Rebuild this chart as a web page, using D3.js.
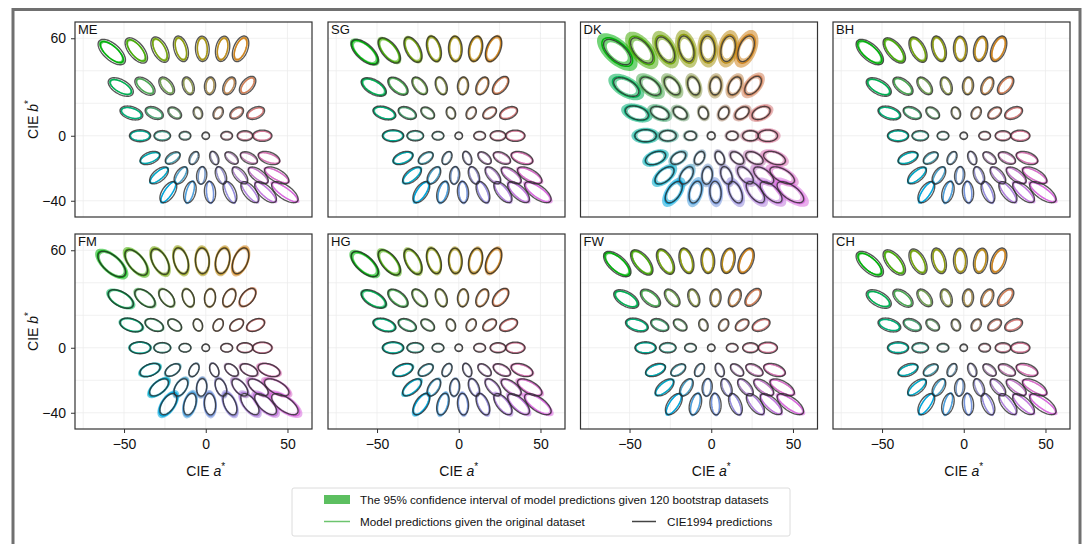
<!DOCTYPE html>
<html>
<head>
<meta charset="utf-8">
<script src="https://cdn.jsdelivr.net/npm/d3@7"></script>
<style>
  body { margin: 0; background: #fff; }
  text { font-family: "Liberation Sans", Arial, sans-serif; fill: #111; }
</style>
</head>
<body>
<svg id="chart" width="1086" height="544"></svg>
<script>
// Observers / datasets, one panel each
const panelNames = ["ME", "SG", "DK", "BH", "FM", "HG", "FW", "CH"];

// Reference colour centres in the a*b* plane (7 rows x 7 columns, row-major)
const centerA = [
  -57.5, -42.5, -28.0, -15.2, -2.1, 10.3, 21.3,
  -52.0, -37.2, -23.9, -10.7,  2.6, 14.4, 25.6,
  -45.5, -31.5, -19.0,  -4.8,  7.6, 18.9, 30.5,
  -40.2, -26.6, -12.7,   0.0, 12.8, 24.0, 34.6,
  -34.1, -20.2,  -7.2,   5.2, 15.8, 26.4, 38.7,
  -28.6, -15.2,  -2.5,   9.3, 20.9, 32.1, 43.4,
  -22.9,  -9.7,   2.6,  14.8, 27.0, 36.6, 48.4
];
const centerB = [
   51.5,  52.5,  53.0,  53.5,  53.5,  53.5,  53.5,
   30.0,  30.5,  30.7,  30.7,  30.7,  30.7,  31.0,
   14.0,  14.0,  14.0,  14.0,  14.0,  14.0,  14.0,
    0.0,   0.0,   0.0,   0.0,   0.0,   0.0,   0.0,
  -13.7, -13.7, -13.7, -13.7, -13.7, -13.7, -13.7,
  -24.4, -24.4, -24.4, -24.4, -24.4, -24.4, -24.4,
  -34.7, -34.7, -34.7, -34.7, -34.7, -34.7, -34.7
];

// CIE1994 threshold ellipses: semi-axis along the chroma direction and along the hue direction
const cieRadial = [
  10.3, 9.3, 8.5, 8.1, 7.8, 7.9, 8.3,
   8.5, 7.3, 6.3, 5.7, 5.5, 5.8, 6.5,
   7.2, 5.9, 4.7, 3.8, 4.0, 4.7, 5.8,
   6.5, 5.1, 3.6, 2.3, 3.6, 4.8, 5.9,
   6.4, 5.1, 4.3, 4.3, 4.8, 5.7, 6.9,
   6.9, 5.9, 5.4, 5.6, 6.3, 7.2, 8.3,
   7.4, 6.8, 6.6, 7.0, 7.7, 8.4, 9.5
];
const cieTangential = [
  5.0, 4.6, 4.4, 4.2, 4.2, 4.2, 4.3,
  4.4, 4.0, 3.6, 3.4, 3.4, 3.5, 3.7,
  3.9, 3.5, 3.1, 2.8, 2.9, 3.1, 3.5,
  3.7, 3.2, 2.7, 2.3, 2.7, 3.1, 3.5,
  3.6, 3.1, 2.7, 2.6, 2.9, 3.2, 3.6,
  3.6, 3.3, 3.1, 3.1, 3.3, 3.5, 3.8,
  3.8, 3.5, 3.4, 3.5, 3.7, 3.9, 4.2
];

// Model ellipses per panel, per row of the grid, relative to CIE1994 axes
const modelRadial = {
  ME: [0.86, 0.86, 0.88, 0.92, 0.98, 1.00, 1.02],
  SG: [0.95, 0.93, 0.93, 0.95, 0.98, 1.00, 1.00],
  DK: [1.12, 1.10, 1.08, 1.05, 1.05, 1.06, 1.08],
  BH: [0.90, 0.90, 0.92, 0.94, 0.98, 1.00, 1.02],
  FM: [1.05, 1.02, 1.00, 1.00, 1.05, 1.10, 1.12],
  HG: [0.98, 0.96, 0.95, 0.96, 1.00, 1.03, 1.04],
  FW: [0.92, 0.90, 0.92, 0.94, 0.98, 1.00, 1.02],
  CH: [0.88, 0.88, 0.90, 0.93, 0.98, 1.00, 1.02]
};
const modelTangential = {
  ME: [0.72, 0.72, 0.75, 0.80, 0.72, 0.66, 0.62],
  SG: [0.85, 0.82, 0.82, 0.85, 0.80, 0.76, 0.74],
  DK: [1.15, 1.10, 1.08, 1.05, 1.05, 1.05, 1.05],
  BH: [0.78, 0.76, 0.78, 0.82, 0.76, 0.70, 0.66],
  FM: [1.00, 0.95, 0.92, 0.92, 0.95, 1.00, 1.05],
  HG: [0.90, 0.86, 0.86, 0.88, 0.86, 0.84, 0.84],
  FW: [0.80, 0.78, 0.80, 0.84, 0.80, 0.74, 0.70],
  CH: [0.76, 0.74, 0.76, 0.80, 0.74, 0.68, 0.64]
};
// Half-width of the bootstrap 95% interval, as a fraction of the model axes
const ciHalfWidth = {
  ME: [0.13, 0.11, 0.10, 0.10, 0.11, 0.12, 0.12],
  SG: [0.16, 0.14, 0.13, 0.13, 0.14, 0.14, 0.15],
  DK: [0.32, 0.30, 0.28, 0.27, 0.27, 0.28, 0.30],
  BH: [0.14, 0.12, 0.11, 0.11, 0.12, 0.13, 0.13],
  FM: [0.17, 0.15, 0.14, 0.14, 0.16, 0.18, 0.19],
  HG: [0.17, 0.15, 0.14, 0.14, 0.15, 0.16, 0.17],
  FW: [0.13, 0.12, 0.11, 0.11, 0.12, 0.13, 0.13],
  CH: [0.12, 0.11, 0.10, 0.10, 0.11, 0.12, 0.12]
};

const xTicks = [-50, 0, 50];
const yTicks = [60, 0, -40];
const xGrid = [-75, -50, -25, 0, 25, 50];
const yGrid = [-40, -20, 0, 20, 40, 60];

const legendLabels = [
  "The 95% confidence interval of model predictions given 120 bootstrap datasets",
  "Model predictions given the original dataset",
  "CIE1994 predictions"
];

// ---- layout ----
const svg = d3.select("#chart");
const panelLeft = [75, 328, 580.5, 833];
const panelTop = [22, 234];
const pw = 237, ph = 195;

const x = d3.scaleLinear().domain([-80, 65]).range([0, pw]);
const y = d3.scaleLinear().domain([-50, 70]).range([ph, 0]);

// figure frame
svg.append("rect")
  .attr("x", 13).attr("y", 9.5).attr("width", 1067).attr("height", 560)
  .attr("fill", "none").attr("stroke", "#707070").attr("stroke-width", 3);

// stimulus colour of each grid point
function swatch(a, b) {
  return d3.lab(62, a * 1.15, b * 1.15).formatHex();
}

const line = d3.line().x(d => x(d[0])).y(d => y(d[1]));

function ellipsePts(a, b, r, t, n = 72) {
  const th = Math.atan2(b, a);
  const c = Math.cos(th), s = Math.sin(th);
  const pts = [];
  for (let k = 0; k < n; k++) {
    const u = (k / n) * 2 * Math.PI;
    const p = r * Math.cos(u), q = t * Math.sin(u);
    pts.push([a + p * c - q * s, b + p * s + q * c]);
  }
  return pts;
}
const closed = pts => line(pts) + "Z";

panelNames.forEach((name, pi) => {
  const col = pi % 4, row = Math.floor(pi / 4);
  const g = svg.append("g").attr("transform", `translate(${panelLeft[col]},${panelTop[row]})`);

  const cid = "clip-" + name;
  g.append("clipPath").attr("id", cid).append("rect").attr("width", pw).attr("height", ph);

  // light grid
  const grid = g.append("g").attr("stroke", "#ededed").attr("stroke-width", 0.8);
  grid.selectAll(".gx").data(xGrid).join("line")
    .attr("x1", d => x(d)).attr("x2", d => x(d)).attr("y1", 0).attr("y2", ph);
  grid.selectAll(".gy").data(yGrid).join("line")
    .attr("y1", d => y(d)).attr("y2", d => y(d)).attr("x1", 0).attr("x2", pw);

  const body = g.append("g").attr("clip-path", `url(#${cid})`);
  const cells = d3.range(centerA.length);

  // bootstrap confidence band
  body.selectAll(".ci").data(cells).join("path")
    .attr("fill-rule", "evenodd")
    .attr("fill", i => swatch(centerA[i], centerB[i]))
    .attr("fill-opacity", 0.55)
    .attr("d", i => {
      const r = Math.floor(i / 7);
      const R = cieRadial[i] * modelRadial[name][r];
      const T = cieTangential[i] * modelTangential[name][r];
      const w = ciHalfWidth[name][r];
      const outer = ellipsePts(centerA[i], centerB[i], R * (1 + w), T * (1 + w));
      const inner = ellipsePts(centerA[i], centerB[i], R * (1 - w), T * (1 - w)).reverse();
      return closed(outer) + closed(inner);
    });

  // model prediction ellipses
  body.selectAll(".model").data(cells).join("path")
    .attr("fill", "none")
    .attr("stroke", i => swatch(centerA[i], centerB[i]))
    .attr("stroke-width", 1.5)
    .attr("d", i => {
      const r = Math.floor(i / 7);
      return closed(ellipsePts(centerA[i], centerB[i],
        cieRadial[i] * modelRadial[name][r], cieTangential[i] * modelTangential[name][r]));
    });

  // CIE1994 ellipses
  body.selectAll(".cie").data(cells).join("path")
    .attr("fill", "none")
    .attr("stroke", "#2b2b2b")
    .attr("stroke-opacity", 0.8)
    .attr("stroke-width", 1.35)
    .attr("d", i => closed(ellipsePts(centerA[i], centerB[i], cieRadial[i], cieTangential[i])));

  // frame
  g.append("rect").attr("width", pw).attr("height", ph)
    .attr("fill", "none").attr("stroke", "#333").attr("stroke-width", 1.2);

  g.append("text").attr("x", 3).attr("y", 12).attr("font-size", 13).text(name);

  // axes
  if (row === 1) {
    const ax = g.append("g").attr("transform", `translate(0,${ph})`)
      .call(d3.axisBottom(x).tickValues(xTicks).tickSize(4).tickSizeOuter(0).tickPadding(6)
        .tickFormat(d => d < 0 ? "\u2212" + Math.abs(d) : d));
    ax.select(".domain").remove();
    ax.selectAll("line").attr("stroke", "#333");
    ax.selectAll("text").attr("font-size", 14).attr("fill", "#111");
    const lab = g.append("text").attr("x", x(0)).attr("y", ph + 47)
      .attr("text-anchor", "middle").attr("font-size", 14);
    lab.append("tspan").text("CIE ");
    lab.append("tspan").attr("font-style", "italic").text("a");
    lab.append("tspan").attr("font-size", 10).attr("dy", -6).text("*");
  }
  if (col === 0) {
    const ay = g.append("g")
      .call(d3.axisLeft(y).tickValues(yTicks).tickSize(4).tickSizeOuter(0).tickPadding(5)
        .tickFormat(d => d < 0 ? "\u2212" + Math.abs(d) : d));
    ay.select(".domain").remove();
    ay.selectAll("line").attr("stroke", "#333");
    ay.selectAll("text").attr("font-size", 14).attr("fill", "#111");
    const lab = g.append("text")
      .attr("transform", `translate(-37,${ph / 2}) rotate(-90)`)
      .attr("text-anchor", "middle").attr("font-size", 14);
    lab.append("tspan").text("CIE ");
    lab.append("tspan").attr("font-style", "italic").text("b");
    lab.append("tspan").attr("font-size", 10).attr("dy", -6).text("*");
  }
});

// ---- legend ----
const lg = svg.append("g").attr("transform", "translate(292,488)");
lg.append("rect").attr("width", 498).attr("height", 48).attr("rx", 2)
  .attr("fill", "#fff").attr("stroke", "#dcdcdc").attr("stroke-width", 1);
lg.append("rect").attr("x", 32).attr("y", 7).attr("width", 26).attr("height", 9)
  .attr("fill", "#5cbf60");
lg.append("text").attr("x", 68).attr("y", 16).attr("font-size", 11.7).text(legendLabels[0]);
lg.append("line").attr("x1", 32).attr("x2", 58).attr("y1", 33.5).attr("y2", 33.5)
  .attr("stroke", "#6cc46e").attr("stroke-width", 1.5);
lg.append("text").attr("x", 68).attr("y", 38).attr("font-size", 11.7).text(legendLabels[1]);
lg.append("line").attr("x1", 340).attr("x2", 364).attr("y1", 33.5).attr("y2", 33.5)
  .attr("stroke", "#444").attr("stroke-width", 1.5);
lg.append("text").attr("x", 375).attr("y", 38).attr("font-size", 11.7).text(legendLabels[2]);
</script>
</body>
</html>
